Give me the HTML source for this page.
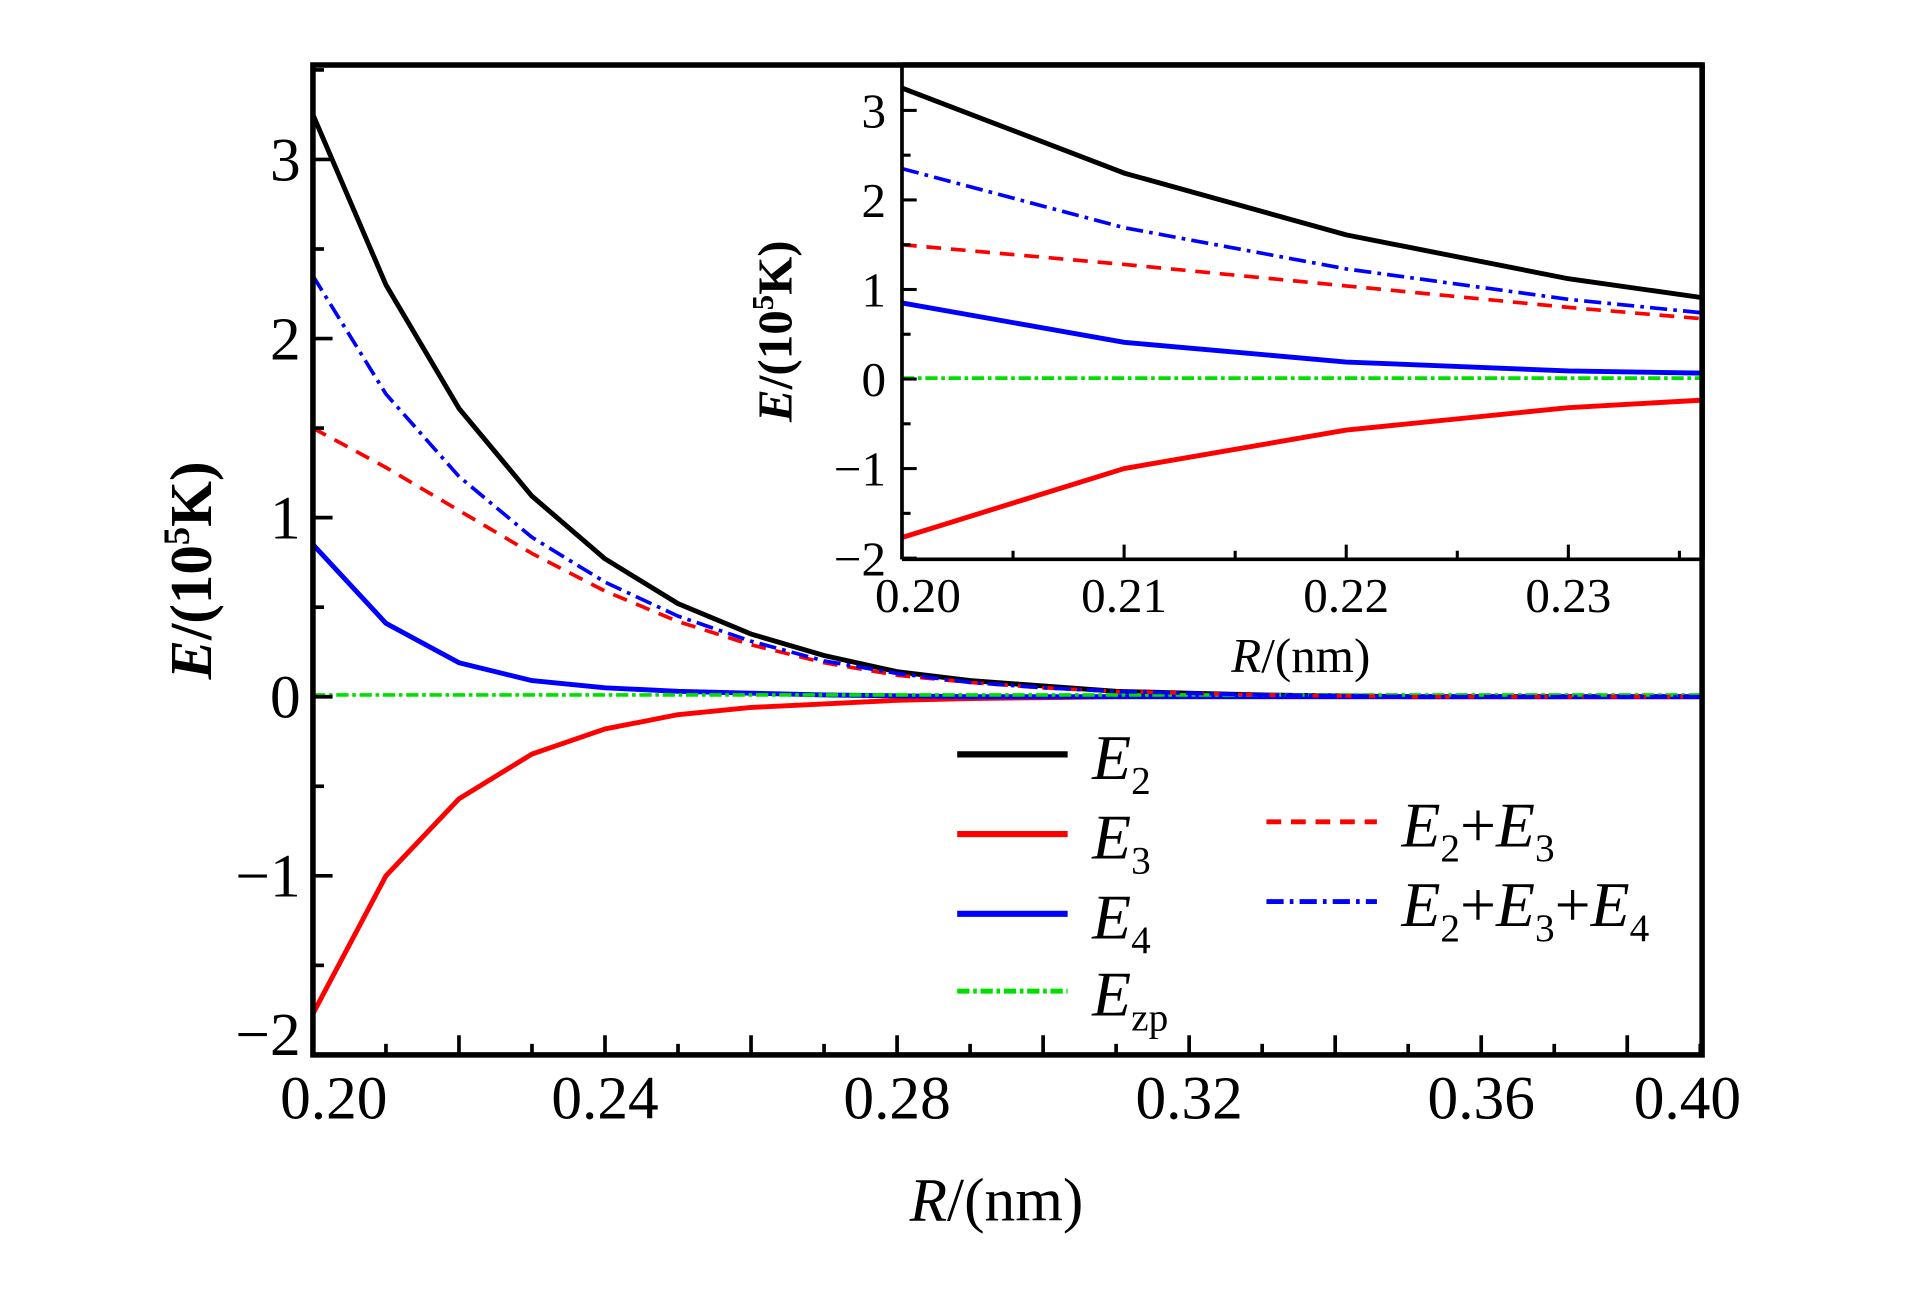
<!DOCTYPE html>
<html><head><meta charset="utf-8"><style>
html,body{margin:0;padding:0;background:#fff;}
svg{display:block;font-family:"Liberation Serif","DejaVu Serif",serif;}
</style></head><body>
<svg id="chart" width="1923" height="1299" viewBox="0 0 1567 1059" preserveAspectRatio="none" xmlns="http://www.w3.org/2000/svg">
<defs>
<clipPath id="mainClip"><rect x="255" y="53" width="1132" height="807"/></clipPath>
<clipPath id="insetClip"><rect x="735" y="53" width="652" height="403"/></clipPath>
</defs>
<rect x="0" y="0" width="1567" height="1059" fill="#fff"/>
<g id="mainPlot"></g>
<g id="insetPlot"></g>
<g id="legend"></g>
</svg>
<script>
const xValues = [0.20,0.21,0.22,0.23,0.24,0.25,0.26,0.27,0.28,0.29,0.30,0.31,0.32,0.33,0.34,0.35,0.36,0.37,0.38,0.39];
const e2 = [3.25,2.30,1.61,1.12,0.77,0.52,0.35,0.23,0.14,0.09,0.06,0.03,0.02,0.01,0.005,0,0,0,0,0];
const e3 = [-1.77,-1.00,-0.57,-0.32,-0.18,-0.10,-0.06,-0.04,-0.02,-0.01,-0.005,0,0,0,0,0,0,0,0,0];
const e4 = [0.85,0.41,0.19,0.09,0.05,0.03,0.02,0.01,0.005,0,0,0,0,0,0,0,0,0,0,0];
const e23 = [1.50,1.28,1.04,0.80,0.59,0.42,0.29,0.19,0.12,0.08,0.05,0.03,0.02,0.01,0.005,0,0,0,0,0];
const e234 = [2.35,1.69,1.23,0.89,0.64,0.45,0.31,0.20,0.13,0.08,0.05,0.03,0.02,0.01,0.005,0,0,0,0,0];
const ezp = [0.01,0.01,0.01,0.01,0.01,0.01,0.01,0.01,0.01,0.01,0.01,0.01,0.01,0.01,0.01,0.01,0.01,0.01,0.01,0.01];
const mainXTicks = ["0.20","0.24","0.28","0.32","0.36","0.40"];
const mainYTicks = ["3","2","1","0","\u22121","\u22122"];
const insetXTicks = ["0.20","0.21","0.22","0.23"];
const insetYTicks = ["3","2","1","0","\u22121","\u22122"];

const NS="http://www.w3.org/2000/svg";
function mk(tag, parent, attrs){const e=document.createElementNS(NS,tag);for(const k in attrs)e.setAttribute(k,attrs[k]);parent.appendChild(e);return e;}

const mx = v => 255 + (v-0.20)*5950;
const my = v => 568 - v*146;
const ix = v => 735 + (v-0.20)*18100;
const iy = v => 309 - v*73;

const series = [
 {name:'e2-line', d:e2, color:'#000', dash:'', w:4},
 {name:'e3-line', d:e3, color:'#ff0000', dash:'', w:4},
 {name:'e4-line', d:e4, color:'#0000ff', dash:'', w:4},
 {name:'ezp-line', d:ezp, color:'#00e000', dash:'10 3 3 3', w:3},
 {name:'e2-e3-line', d:e23, color:'#ff0000', dash:'12 8', w:3},
 {name:'e2-e3-e4-line', d:e234, color:'#0000ff', dash:'14 5 3 5', w:3}
];

const main=document.getElementById('mainPlot');
const ml=mk('g',main,{'clip-path':'url(#mainClip)'});
series.forEach(s=>{
 const pts=xValues.map((x,i)=>mx(x)+','+my(s.d[i])).join(' ');
 const p=mk('polyline',ml,{points:pts,fill:'none',stroke:s.color,'stroke-width':s.w,'stroke-dasharray':s.dash,'stroke-linejoin':'round'});
 
 
});
for(let k=0;k<=19;k++){const x=mx(0.20+k*0.01);const len=(k%2==0)?16:9;
 mk('line',main,{x1:x,y1:860,x2:x,y2:860-len,stroke:'#000','stroke-width':3});}
for(let k=-4;k<=7;k++){const y=my(k*0.5);const len=(k%2==0)?16:9;
 mk('line',main,{x1:255,y1:y,x2:255+len,y2:y,stroke:'#000','stroke-width':3});}
const frame=mk('rect',main,{x:255,y:53,width:1132,height:807,fill:'none',stroke:'#000','stroke-width':4.5});


mainXTicks.forEach((t,i)=>{
 let x=mx(parseFloat(t)); if(i===0)x=272; if(i===mainXTicks.length-1)x=1375;
 const e=mk('text',main,{x:x,y:912,'font-size':50,'text-anchor':'middle'});e.textContent=t;
 
 
});
mainYTicks.forEach((t,i)=>{
 const v=3-i;let y=my(v)+17; if(v===-2)y=860;
 const e=mk('text',main,{x:245,y:y,'font-size':50,'text-anchor':'end'});e.textContent=t;
 
 
});
const xt=mk('text',main,{x:812,y:995,'font-size':50,'text-anchor':'middle'});
xt.innerHTML='<tspan font-style="italic">R</tspan>/(nm)';


const yt=mk('text',main,{x:0,y:0,'font-size':48,'font-weight':'bold','text-anchor':'middle',transform:'translate(172,465) rotate(-90)'});
yt.innerHTML='<tspan font-style="italic">E</tspan>/(10<tspan font-size="30" dy="-18">5</tspan><tspan dy="18">K)</tspan>';



const ins=document.getElementById('insetPlot');
mk('rect',ins,{x:735,y:53,width:652,height:403,fill:'#fff'});
const il=mk('g',ins,{'clip-path':'url(#insetClip)'});
series.forEach(s=>{
 const pts=xValues.map((x,i)=>ix(x)+','+iy(s.d[i])).join(' ');
 const p=mk('polyline',il,{points:pts,fill:'none',stroke:s.color,'stroke-width':s.w,'stroke-dasharray':s.dash,'stroke-linejoin':'round'});
 
 
});
for(let k=0;k<=7;k++){const x=ix(0.20+k*0.005);const len=(k%2==0)?12:7;
 mk('line',ins,{x1:x,y1:456,x2:x,y2:456-len,stroke:'#000','stroke-width':2.5});}
for(let k=-4;k<=6;k++){const y=iy(k*0.5);const len=(k%2==0)?12:7;
 mk('line',ins,{x1:735,y1:y,x2:735+len,y2:y,stroke:'#000','stroke-width':2.5});}
mk('line',ins,{x1:735,y1:53,x2:735,y2:456,stroke:'#000','stroke-width':3});
mk('line',ins,{x1:735,y1:456,x2:1387,y2:456,stroke:'#000','stroke-width':3});
mk('line',ins,{x1:1387,y1:53,x2:1387,y2:456,stroke:'#000','stroke-width':4.5});
mk('line',ins,{x1:735,y1:53,x2:1387,y2:53,stroke:'#000','stroke-width':4.5});
insetXTicks.forEach((t,i)=>{
 let x=ix(parseFloat(t)); if(i===0)x=748;
 const e=mk('text',ins,{x:x,y:499,'font-size':40,'text-anchor':'middle'});e.textContent=t;
 
 
});
insetYTicks.forEach((t,i)=>{
 const v=3-i;
 const e=mk('text',ins,{x:722,y:iy(v)+14,'font-size':40,'text-anchor':'end'});e.textContent=t;
 
 
});
const ixt=mk('text',ins,{x:1060,y:548,'font-size':40,'text-anchor':'middle'});
ixt.innerHTML='<tspan font-style="italic">R</tspan>/(nm)';


const iyt=mk('text',ins,{x:0,y:0,'font-size':40,'font-weight':'bold','text-anchor':'middle',transform:'translate(645,270) rotate(-90)'});
iyt.innerHTML='<tspan font-style="italic">E</tspan>/(10<tspan font-size="25" dy="-15">5</tspan><tspan dy="15">K)</tspan>';



const lg=document.getElementById('legend');
const entries=[
 {s:series[0],x:780,y:615,sub:'2'},
 {s:series[1],x:780,y:680,sub:'3'},
 {s:series[2],x:780,y:745,sub:'4'},
 {s:series[3],x:780,y:808,sub:'zp'},
 {s:series[4],x:1032,y:670,html:'<tspan font-style="italic">E</tspan><tspan font-size="32" dy="12">2</tspan><tspan dy="-12">+</tspan><tspan font-style="italic">E</tspan><tspan font-size="32" dy="12">3</tspan>'},
 {s:series[5],x:1032,y:735,html:'<tspan font-style="italic">E</tspan><tspan font-size="32" dy="12">2</tspan><tspan dy="-12">+</tspan><tspan font-style="italic">E</tspan><tspan font-size="32" dy="12">3</tspan><tspan dy="-12">+</tspan><tspan font-style="italic">E</tspan><tspan font-size="32" dy="12">4</tspan>'}
];
entries.forEach(en=>{
 const g=mk('g',lg,{});
 
 
 mk('line',g,{x1:en.x,y1:en.y,x2:en.x+90,y2:en.y,stroke:en.s.color,'stroke-width':en.s.w+1,'stroke-dasharray':en.s.dash});
 const t=mk('text',g,{x:en.x+110,y:en.y+20,'font-size':52});
 t.innerHTML=en.html||('<tspan font-style="italic">E</tspan><tspan font-size="32" dy="12">'+en.sub+'</tspan>');
});
</script>
</body></html>
